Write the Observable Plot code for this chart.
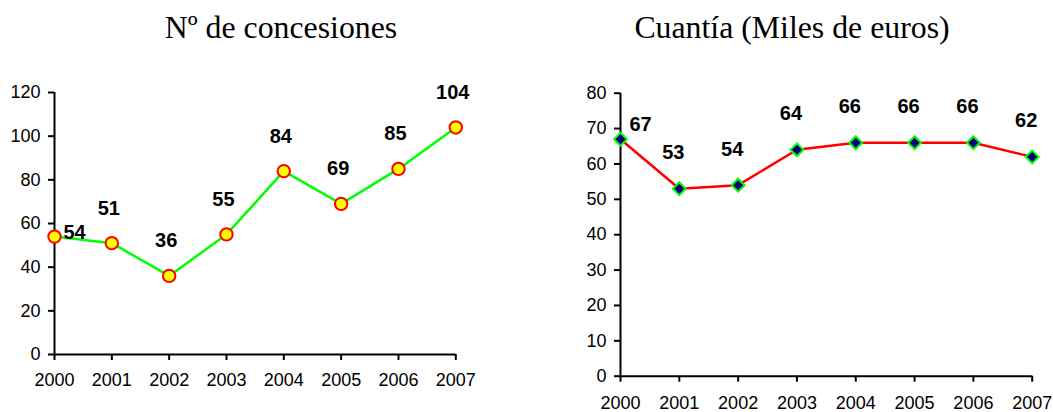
<!DOCTYPE html>
<html>
<head>
<meta charset="utf-8">
<script src="https://cdn.jsdelivr.net/npm/d3@7"></script>
<script src="https://cdn.jsdelivr.net/npm/@observablehq/plot@0.6"></script>
<style>
  html, body { margin: 0; padding: 0; background: #fff; }
  #wrap { position: relative; width: 1053px; height: 412px; overflow: hidden; background: #fff; }
  .title { position: absolute; top: 12px; font-family: "Liberation Serif", "Times New Roman", serif; font-size: 31.8px; line-height: 31px; color: #000; white-space: nowrap; transform: translateX(-50%); }
  .panel { position: absolute; top: 0; }
</style>
</head>
<body>
<div id="wrap">
  <div class="title" id="t1" style="left:281px"></div>
  <div class="title" id="t2" style="left:792px"></div>
  <div class="panel" id="p1" style="left:0px"></div>
  <div class="panel" id="p2" style="left:526px"></div>
</div>
<script>
// ---- data ----
const years = [2000, 2001, 2002, 2003, 2004, 2005, 2006, 2007];
const concesiones = [54, 51, 36, 55, 84, 69, 85, 104];
const cuantia = [67, 53, 54, 64, 66, 66, 66, 62];
const ticksLeft = [0, 20, 40, 60, 80, 100, 120];
const ticksRight = [0, 10, 20, 30, 40, 50, 60, 70, 80];
const titleLeft = "Nº de concesiones";
const titleRight = "Cuantía (Miles de euros)";

document.getElementById("t1").textContent = titleLeft;
document.getElementById("t2").textContent = titleRight;

const tableLeft = years.map((year, i) => ({year, value: concesiones[i], i}));
const tableRight = years.map((year, i) => ({year, value: cuantia[i], i}));

const baseStyle = {fontFamily: "'Liberation Sans', Arial, sans-serif", fontSize: "18px", color: "#000", background: "transparent", overflow: "visible"};

function panel({table, ticks, ymax, width, margins, lineColor, dot, labelDx, labelDy, firstDx, firstDy, padX}) {
  return Plot.plot({
    width, height: 412,
    ...margins,
    style: baseStyle,
    x: {type: "linear", domain: [years[0], years[years.length - 1]]},
    y: {domain: [0, ymax]},
    marks: [
      Plot.axisY({ticks, tickSize: 6, tickPadding: 8, strokeWidth: 2, label: null, fontSize: 18}),
      Plot.axisX({ticks: years, tickSize: 6, tickPadding: padX, strokeWidth: 2, label: null, fontSize: 18, tickFormat: d3.format("d")}),
      Plot.ruleX([years[0]], {strokeWidth: 2, stroke: "#000"}),
      Plot.ruleY([0], {strokeWidth: 2, stroke: "#000"}),
      Plot.line(table, {x: "year", y: "value", stroke: lineColor, strokeWidth: 2.5}),
      Plot.dot(table, {x: "year", y: "value", ...dot}),
      Plot.text(table.filter(d => d.i === 0), {x: "year", y: "value", text: d => String(d.value), dx: firstDx, dy: firstDy, fontSize: 20, fontWeight: "bold", fill: "#000"}),
      Plot.text(table.filter(d => d.i > 0), {x: "year", y: "value", text: d => String(d.value), dx: labelDx, dy: labelDy, fontSize: 20, fontWeight: "bold", fill: "#000"})
    ]
  });
}

document.getElementById("p1").append(panel({
  table: tableLeft, ticks: ticksLeft, ymax: 120, width: 526,
  margins: {marginLeft: 54, marginRight: 70.7, marginTop: 92, marginBottom: 58},
  lineColor: "#00ff00",
  dot: {r: 6.2, fill: "#ffff00", stroke: "#ff0000", strokeWidth: 2},
  labelDx: -3, labelDy: -35, firstDx: 20, firstDy: -4, padX: 13
}));

document.getElementById("p2").append(panel({
  table: tableRight, ticks: ticksRight, ymax: 80, width: 527,
  margins: {marginLeft: 94, marginRight: 21.3, marginTop: 92.7, marginBottom: 36.3},
  lineColor: "#ff0000",
  dot: {r: 5.8, symbol: "diamond2", fill: "#000080", stroke: "#00ff00", strokeWidth: 2},
  labelDx: -6, labelDy: -36, firstDx: 20, firstDy: -15, padX: 14
}));
</script>
</body>
</html>
